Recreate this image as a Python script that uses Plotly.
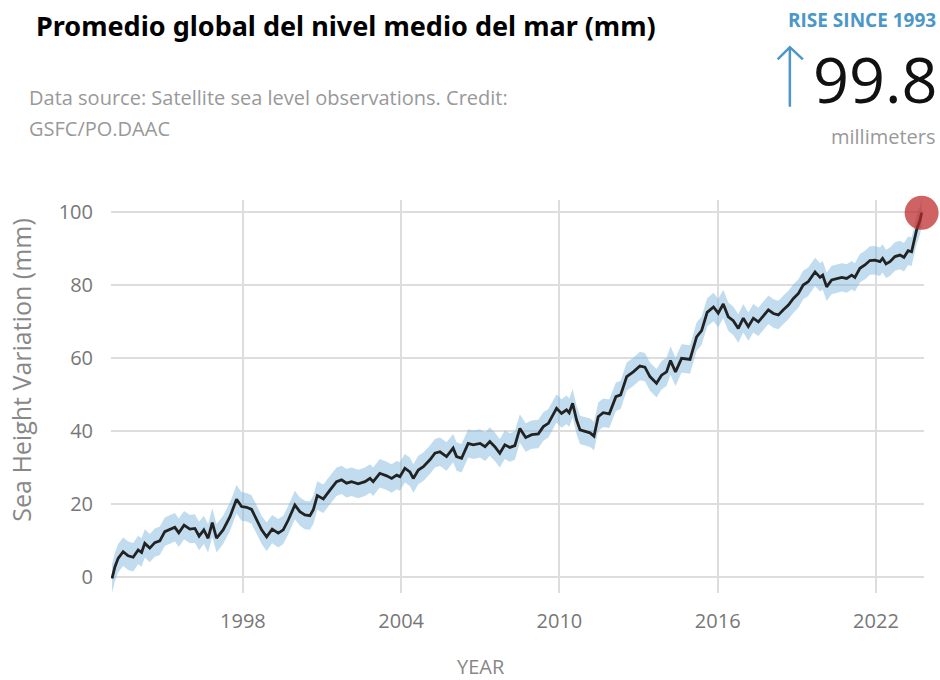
import plotly.graph_objects as go

# Sea level change since 1993 (mm)
years = [
    1993.04, 1993.15, 1993.27, 1993.46, 1993.65, 1993.84, 1994.03, 1994.16, 1994.28, 1994.47,
    1994.66, 1994.85, 1995.04, 1995.23, 1995.42, 1995.57, 1995.77, 1995.99, 1996.18, 1996.34,
    1996.52, 1996.68, 1996.84, 1997.00, 1997.25, 1997.51, 1997.76, 1997.95, 1998.14, 1998.33,
    1998.52, 1998.71, 1998.90, 1999.11, 1999.34, 1999.53, 1999.72, 1999.97, 2000.16, 2000.35,
    2000.54, 2000.67, 2000.82, 2001.05, 2001.30, 2001.55, 2001.74, 2001.93, 2002.12, 2002.37,
    2002.63, 2002.82, 2002.94, 2003.19, 2003.45, 2003.64, 2003.83, 2003.95, 2004.14, 2004.33,
    2004.46, 2004.65, 2004.84, 2005.09, 2005.28, 2005.47, 2005.72, 2005.97, 2006.10, 2006.29,
    2006.54, 2006.73, 2006.99, 2007.18, 2007.36, 2007.55, 2007.74, 2007.93, 2008.12, 2008.31,
    2008.50, 2008.72, 2008.95, 2009.20, 2009.39, 2009.58, 2009.89, 2010.08, 2010.27, 2010.37,
    2010.50, 2010.65, 2010.78, 2010.97, 2011.16, 2011.31, 2011.47, 2011.66, 2011.89, 2012.14,
    2012.32, 2012.55, 2012.80, 2013.05, 2013.24, 2013.43, 2013.68, 2013.87, 2014.06, 2014.21,
    2014.40, 2014.63, 2014.95, 2015.20, 2015.39, 2015.60, 2015.84, 2016.02, 2016.21, 2016.40,
    2016.59, 2016.78, 2016.97, 2017.16, 2017.35, 2017.54, 2017.73, 2017.92, 2018.11, 2018.30,
    2018.49, 2018.68, 2018.87, 2019.06, 2019.24, 2019.43, 2019.69, 2019.88, 2019.98, 2020.13,
    2020.32, 2020.51, 2020.70, 2020.89, 2021.08, 2021.20, 2021.39, 2021.58, 2021.77, 2021.96,
    2022.15, 2022.25, 2022.38, 2022.53, 2022.72, 2022.91, 2023.06, 2023.22, 2023.35, 2023.54,
    2023.67, 2023.73,
]
sea_level = [
    -0.4, 2.8, 5.1, 6.9, 5.8, 5.4, 7.4, 6.7, 9.2, 7.9,
    9.4, 9.9, 12.4, 12.9, 13.6, 12.1, 14.2, 13.1, 13.3, 11.2,
    12.9, 10.6, 14.9, 10.6, 12.9, 16.5, 21.3, 19.3, 19.1, 18.5,
    15.6, 12.9, 11.0, 13.1, 12.0, 12.9, 15.6, 19.7, 17.9, 17.0,
    16.8, 18.4, 22.3, 21.4, 23.8, 26.1, 26.6, 25.7, 26.1, 25.5,
    26.1, 27.0, 26.1, 28.4, 27.7, 27.0, 27.9, 27.5, 29.8, 28.8,
    27.0, 29.3, 30.2, 32.1, 33.9, 34.3, 33.0, 35.3, 33.0, 32.5,
    36.6, 36.2, 36.6, 35.7, 37.1, 35.7, 33.9, 36.2, 35.5, 36.0,
    40.7, 38.2, 39.0, 39.2, 41.2, 42.1, 46.2, 44.8, 45.8, 45.0,
    47.6, 43.0, 40.3, 39.8, 39.5, 38.6, 43.9, 45.0, 44.7, 49.4,
    49.9, 54.9, 56.2, 57.8, 57.5, 54.9, 53.1, 55.3, 56.2, 59.3,
    56.2, 59.9, 59.6, 65.8, 67.5, 72.5, 74.0, 72.3, 74.8, 71.3,
    70.2, 68.1, 70.9, 68.6, 70.9, 69.9, 71.5, 73.2, 72.2, 71.8,
    73.2, 74.5, 76.3, 77.7, 80.0, 80.9, 83.6, 82.1, 82.7, 79.5,
    81.4, 81.8, 82.1, 81.8, 82.7, 82.1, 84.6, 85.5, 86.7, 86.8,
    86.4, 87.3, 85.8, 86.4, 87.8, 88.2, 87.6, 89.4, 89.1, 95.1,
    97.8, 99.8,
]
uncertainty = 3.9  # half-width of the shaded band (mm)

x_ticks = [1998, 2004, 2010, 2016, 2022]
y_ticks = [0, 20, 40, 60, 80, 100]

title_text = "Promedio global del nivel medio del mar (mm)"
source_line1 = "Data source: Satellite sea level observations. Credit:"
source_line2 = "GSFC/PO.DAAC"
rise_label = "RISE SINCE 1993"
rise_value = "99.8"
rise_unit = "millimeters"

upper = [v + uncertainty for v in sea_level]
lower = [v - uncertainty for v in sea_level]

fig = go.Figure()
fig.add_trace(go.Scatter(x=years, y=lower, mode='lines', line=dict(width=0),
                         hoverinfo='skip', showlegend=False))
fig.add_trace(go.Scatter(x=years, y=upper, mode='lines', line=dict(width=0),
                         fill='tonexty', fillcolor='rgba(125,182,219,0.48)',
                         hoverinfo='skip', showlegend=False))
fig.add_trace(go.Scatter(x=years, y=sea_level, mode='lines',
                         line=dict(color='#222222', width=2.8), showlegend=False))
fig.add_trace(go.Scatter(x=[years[-1]], y=[sea_level[-1]], mode='markers',
                         marker=dict(size=34, color='rgba(188,38,38,0.72)'),
                         cliponaxis=False, showlegend=False))

tick_font = dict(family='Open Sans', size=20, color='#777777')
grey = '#999999'

fig.update_layout(
    width=940, height=680,
    margin=dict(l=111, r=16, t=200, b=87),
    paper_bgcolor='white', plot_bgcolor='white',
    xaxis=dict(range=[1993.0, 2023.82], tickvals=x_ticks, showgrid=True,
               gridcolor='#dddddd', gridwidth=2, zeroline=False,
               ticks='outside', ticklen=10, tickcolor='rgba(0,0,0,0)',
               tickfont=tick_font, showline=False),
    yaxis=dict(range=[-4.4, 103.3], tickvals=y_ticks, showgrid=True,
               gridcolor='#dddddd', gridwidth=2, zeroline=False,
               ticks='outside', ticklen=13, tickcolor='rgba(0,0,0,0)',
               tickfont=tick_font, showline=False),
    annotations=[
        dict(text='<b>' + title_text + '</b>', xref='paper', yref='paper',
             x=-0.095, y=1.445, xanchor='left', yanchor='middle', showarrow=False,
             font=dict(family='Noto Sans', size=27, color='#000000')),
        dict(text=source_line1, xref='paper', yref='paper',
             x=-0.103, y=1.262, xanchor='left', yanchor='middle', showarrow=False,
             font=dict(family='Open Sans', size=20, color=grey)),
        dict(text=source_line2, xref='paper', yref='paper',
             x=-0.103, y=1.183, xanchor='left', yanchor='middle', showarrow=False,
             font=dict(family='Open Sans', size=20, color=grey)),
        dict(text='<b>' + rise_label + '</b>', xref='paper', yref='paper',
             x=1.017, y=1.457, xanchor='right', yanchor='middle', showarrow=False,
             font=dict(family='Open Sans', size=19, color='#4b97c9')),
        dict(text=rise_value, xref='paper', yref='paper',
             x=1.02, y=1.31, xanchor='right', yanchor='middle', showarrow=False,
             font=dict(family='Open Sans', size=63, color='#111111')),
        dict(text=rise_unit, xref='paper', yref='paper',
             x=1.017, y=1.161, xanchor='right', yanchor='middle', showarrow=False,
             font=dict(family='Open Sans', size=20, color=grey)),
        dict(text='YEAR', xref='paper', yref='paper',
             x=0.455, y=-0.188, xanchor='center', yanchor='middle', showarrow=False,
             font=dict(family='Open Sans', size=20, color='#888888')),
        dict(text='Sea Height Variation (mm)', xref='paper', yref='paper', textangle=-90,
             x=-0.11, y=0.567, xanchor='center', yanchor='middle', showarrow=False,
             font=dict(family='Open Sans', size=25, color='#888888')),
    ],
    shapes=[
        # up arrow next to the headline number
        dict(type='path', xref='paper', yref='paper',
             path='M 0.835,1.237 L 0.835,1.389 M 0.820,1.358 L 0.835,1.389 L 0.851,1.358',
             line=dict(color='#4b97c9', width=2.5)),
    ],
)

# drop the browser's default body margin so the figure sits at the page corner
fig.write_html("out.html", config={'displayModeBar': False},
               post_script="document.body.style.margin='0';")
